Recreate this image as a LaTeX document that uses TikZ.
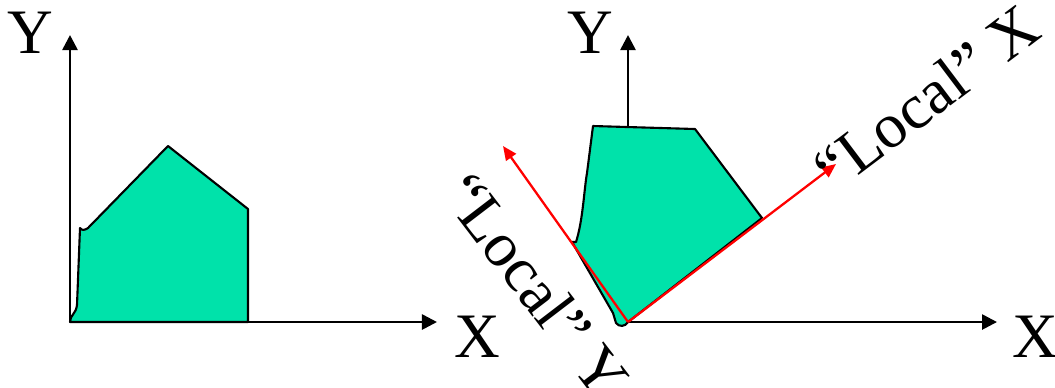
\documentclass[tikz,border=0pt]{standalone}
\usepackage{fontspec}
\setmainfont{Liberation Serif}
\usetikzlibrary{arrows.meta}
\definecolor{shapegreen}{RGB}{0,226,170}

\begin{document}
\begin{tikzpicture}[
        x=0.01cm, y=-0.01cm,
        axis/.style={line width=0.75pt, -{Triangle[length=1.5mm, width=1.5mm]}},
        localaxis/.style={red, line width=0.65pt, -{Triangle[length=1.4mm, width=1.2mm]}},
        polyfill/.style={draw=black, fill=shapegreen, line width=0.6pt, line join=round},
        lbl/.style={inner sep=0pt, font=\fontsize{18}{20}\selectfont}
    ]
        \clip (0,0) rectangle (1055,387);

        % Left: world frame
        \coordinate (o1) at (70,322);
        \coordinate (y1) at (70,35);
        \coordinate (x1) at (437,322);
        \filldraw[polyfill] (o1) .. controls (70,315) and (76,314) .. (77,305)
            -- (80,228) .. controls (82,231) and (85,230) .. (88,228)
            -- (168,146) -- (248,209) -- (248,322) -- cycle;
        \draw[axis] (o1) -- (y1);
        \draw[axis] (o1) -- (x1);
        \node[lbl] (ylab1) at (30,33) {Y};
        \node[lbl] (xlab1) at (477,337) {X};

        % Right: rotated shape
        \coordinate (o2) at (628,322);
        \coordinate (y2) at (628,35);
        \coordinate (x2) at (997,322);
        \draw[axis] (o2) -- (y2);
        \filldraw[polyfill] (593,126) -- (695,129) -- (762,218) -- (o2)
            .. controls (625,327) and (619,327) .. (616,323)
            -- (613,313) -- (572,242) -- (576,242)
            .. controls (583,220) and (584,190) .. (587,173) -- cycle;
        \draw[axis] (o2) -- (x2);
        \node[lbl] (ylab2) at (590,33) {Y};
        \node[lbl] (xlab2) at (1035,337) {X};

        % Local frame
        \coordinate (lx) at (836,164);
        \coordinate (ly) at (503,146);
        \draw[localaxis] (o2) -- (lx);
        \draw[localaxis] (o2) -- (ly);
        \node[lbl, anchor=base west, rotate=37] (lxlab) at (834,194) {``Local'' X};
        \node[lbl, anchor=base west, rotate=-52.6] (lylab) at (439,194) {``Local'' Y};

    \end{tikzpicture}
\end{document}
